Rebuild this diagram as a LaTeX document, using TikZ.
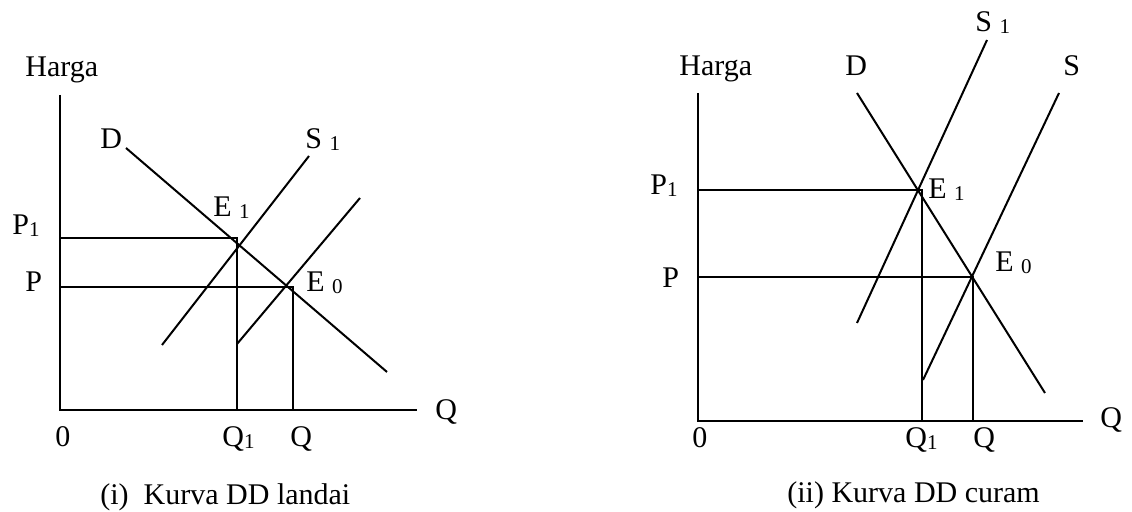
\documentclass[tikz,border=0pt]{standalone}
\usepackage{fontspec}
\setmainfont{Liberation Serif}
\newcommand\lowdig[1]{\raisebox{-1pt}{\fontsize{10.5}{10.5}\selectfont #1}}
\begin{document}
\begin{tikzpicture}[x=0.5pt,y=-0.5pt,
  curve/.style={line width=1pt},
  lbl/.style={inner sep=0pt,anchor=base west,font=\fontsize{15}{18}\selectfont}]
\useasboundingbox (0,0) rectangle (1132,512);
% ---------- left panel ----------
\coordinate (LYt) at (60,95);
\coordinate (LO) at (60,410);
\coordinate (LXe) at (417,410);
\draw[curve] (LYt) -- (LO) -- (LXe);
\coordinate (LDa) at (126,148);
\coordinate (LDb) at (387,372);
\draw[curve] (LDa) -- (LDb);
\coordinate (LS1a) at (309,156);
\coordinate (LS1b) at (162,345);
\draw[curve] (LS1a) -- (LS1b);
\coordinate (LSa) at (360,198);
\coordinate (LSb) at (237,344);
\draw[curve] (LSa) -- (LSb);
\coordinate (LP1) at (60,238);
\coordinate (LE1) at (237,238);
\coordinate (LQ1) at (237,410);
\draw[curve] (LP1) -- (LE1) -- (LQ1);
\coordinate (LP) at (60,287);
\coordinate (LE0) at (293,287);
\coordinate (LQ) at (293,410);
\draw[curve] (LP) -- (LE0) -- (LQ);
\node[lbl] (lharga) at (25,77) {Harga};
\node[lbl] (ld) at (100,149) {D};
\node[lbl] (ls1) at (305,149) {S \lowdig{1}};
\node[lbl] (le1) at (213,217) {E \lowdig{1}};
\node[lbl] (lp1) at (12,235) {P\lowdig{1}};
\node[lbl] (lp) at (25,292) {P};
\node[lbl] (le0) at (306,292) {E \lowdig{0}};
\node[lbl] (lqax) at (435,420) {Q};
\node[lbl] (lzero) at (55,447) {0};
\node[lbl] (lq1) at (222,447) {Q\lowdig{1}};
\node[lbl] (lq) at (290,447) {Q};
\node[lbl] (lcap) at (100,505) {(i)\ \ Kurva DD landai};
% ---------- right panel ----------
\coordinate (RYt) at (698,93);
\coordinate (RO) at (698,421);
\coordinate (RXe) at (1083,421);
\draw[curve] (RYt) -- (RO) -- (RXe);
\coordinate (RDa) at (857,93);
\coordinate (RDb) at (1045,393);
\draw[curve] (RDa) -- (RDb);
\coordinate (RS1a) at (987,40);
\coordinate (RS1b) at (857,323);
\draw[curve] (RS1a) -- (RS1b);
\coordinate (RSa) at (1059,93);
\coordinate (RSb) at (923,380);
\draw[curve] (RSa) -- (RSb);
\coordinate (RP1) at (698,190);
\coordinate (RE1) at (922,190);
\coordinate (RQ1) at (922,421);
\draw[curve] (RP1) -- (RE1) -- (RQ1);
\coordinate (RP) at (698,277);
\coordinate (RE0) at (973,277);
\coordinate (RQ) at (973,421);
\draw[curve] (RP) -- (RE0) -- (RQ);
\node[lbl] (rharga) at (679,76) {Harga};
\node[lbl] (rd) at (845,76) {D};
\node[lbl] (rs) at (1063,76) {S};
\node[lbl] (rs1) at (975,32) {S \lowdig{1}};
\node[lbl] (rp1) at (650,195) {P\lowdig{1}};
\node[lbl] (rp) at (662,288) {P};
\node[lbl] (re1) at (928,199) {E \lowdig{1}};
\node[lbl] (re0) at (995,272) {E \lowdig{0}};
\node[lbl] (rqax) at (1100,428) {Q};
\node[lbl] (rzero) at (692,448) {0};
\node[lbl] (rq1) at (905,448) {Q\lowdig{1}};
\node[lbl] (rq) at (973,448) {Q};
\node[lbl] (rcap) at (787,503) {(ii) Kurva DD curam};
\end{tikzpicture}
\end{document}
